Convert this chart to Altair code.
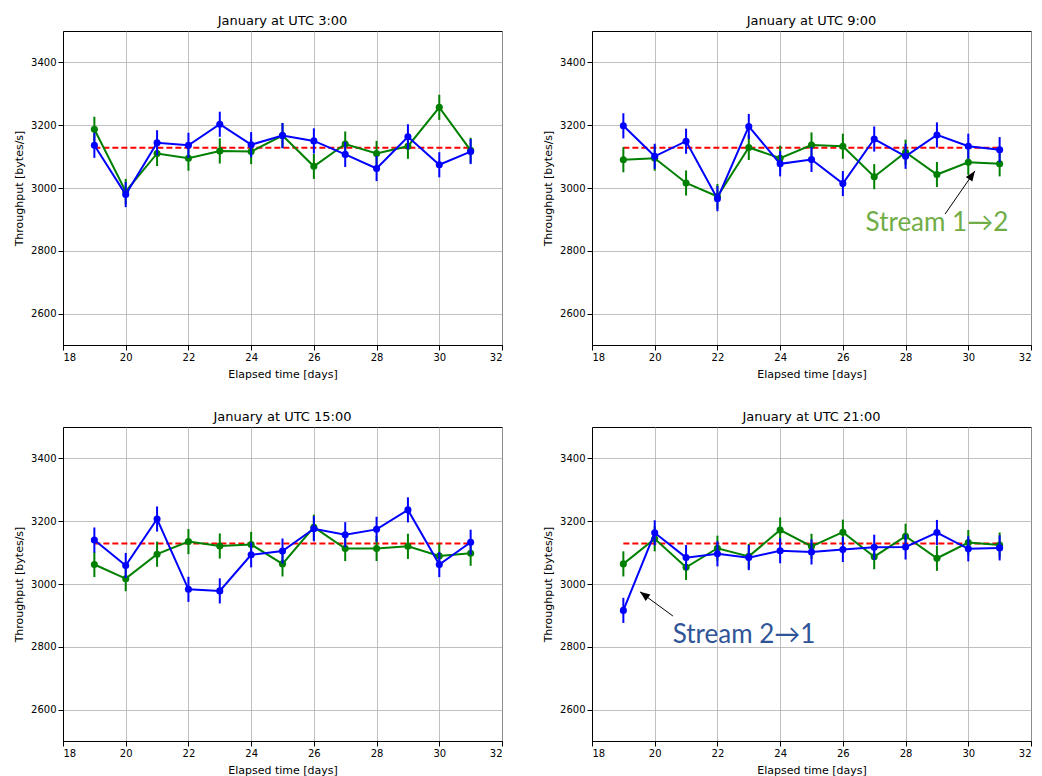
import altair as alt
import pandas as pd

days = [19, 20, 21, 22, 23, 24, 25, 26, 27, 28, 29, 30, 31]
titles = ["January at UTC 3:00", "January at UTC 9:00",
          "January at UTC 15:00", "January at UTC 21:00"]

blue_03 = [3136, 2979, 3144, 3136, 3203, 3138, 3167, 3150, 3107, 3062, 3163, 3074, 3116]
green_03 = [3187, 2989, 3110, 3095, 3118, 3116, 3167, 3069, 3140, 3110, 3133, 3257, 3120]
blue_09 = [3198, 3101, 3149, 2966, 3196, 3077, 3091, 3014, 3156, 3101, 3169, 3133, 3122]
green_09 = [3090, 3095, 3016, 2973, 3129, 3095, 3137, 3133, 3036, 3114, 3043, 3082, 3077]
blue_15 = [3140, 3059, 3207, 2983, 2978, 3093, 3105, 3176, 3157, 3174, 3236, 3062, 3133]
green_15 = [3062, 3017, 3095, 3135, 3121, 3126, 3064, 3181, 3113, 3113, 3120, 3089, 3098]
blue_21 = [2916, 3163, 3084, 3096, 3084, 3106, 3102, 3110, 3117, 3118, 3164, 3112, 3115]
green_21 = [3064, 3144, 3053, 3114, 3088, 3172, 3120, 3165, 3087, 3152, 3082, 3132, 3124]

err_blue = [40, 40, 40, 40, 40, 40, 40, 40, 40, 40, 40, 40, 40]
err_green = [40, 40, 40, 40, 40, 40, 40, 40, 40, 40, 40, 40, 40]

mean_level = [3128, 3128, 3129, 3129]
mean_span = [19, 31]

# annotations
ann_text = ["Stream 1\u21922", "Stream 2\u21921"]
ann_pos = [(29.0, 2889), (22.85, 2838)]
ann_color = ["#70AD47", "#2F5597"]
arrow_from = [(29.26, 2917), (20.58, 2898)]
arrow_to = [(30.21, 3054), (19.53, 2975)]
arrow_angle = [35, 306]

W, H = 439, 314
xs = alt.Scale(domain=[18, 32], nice=False, zero=False)
ys = alt.Scale(domain=[2500, 3500], nice=False, zero=False)
xaxis = alt.Axis(values=[18, 20, 22, 24, 26, 28, 30, 32], title="Elapsed time [days]", format="d")
yaxis = alt.Axis(values=[2600, 2800, 3000, 3200, 3400], title="Throughput [bytes/s]", format="d")


def series(vals, errs, color):
    df = pd.DataFrame({"day": days, "v": vals,
                       "lo": [a - b for a, b in zip(vals, errs)],
                       "hi": [a + b for a, b in zip(vals, errs)]})
    base = alt.Chart(df)
    eb = base.mark_rule(color=color, strokeWidth=2).encode(
        x=alt.X("day:Q", scale=xs, axis=xaxis),
        y=alt.Y("lo:Q", scale=ys, axis=yaxis), y2="hi:Q")
    ln = base.mark_line(color=color, strokeWidth=2).encode(
        x=alt.X("day:Q", scale=xs, axis=xaxis),
        y=alt.Y("v:Q", scale=ys, axis=yaxis))
    pt = base.mark_circle(color=color, size=50, opacity=1).encode(
        x=alt.X("day:Q", scale=xs, axis=xaxis),
        y=alt.Y("v:Q", scale=ys, axis=yaxis))
    return [eb, ln, pt]


def panel(i, blue, green):
    mdf = pd.DataFrame({"x": [mean_span[0]], "x2": [mean_span[1]], "y": [mean_level[i]]})
    mean = alt.Chart(mdf).mark_rule(color="#ff0000", strokeWidth=2, strokeDash=[6, 3]).encode(
        x=alt.X("x:Q", scale=xs, axis=xaxis), x2="x2:Q",
        y=alt.Y("y:Q", scale=ys, axis=yaxis))
    layers = [mean] + series(green, err_green, "#008000") + series(blue, err_blue, "#0000ff")
    k = {1: 0, 3: 1}.get(i)
    if k is not None:
        tdf = pd.DataFrame({"x": [ann_pos[k][0]], "y": [ann_pos[k][1]], "t": [ann_text[k]]})
        txt = alt.Chart(tdf).mark_text(font="Lato", fontSize=26, color=ann_color[k],
                                       align="center", baseline="middle").encode(
            x=alt.X("x:Q", scale=xs, axis=xaxis), y=alt.Y("y:Q", scale=ys, axis=yaxis),
            text="t:N")
        adf = pd.DataFrame({"x": [arrow_from[k][0]], "y": [arrow_from[k][1]],
                            "x2": [arrow_to[k][0]], "y2": [arrow_to[k][1]]})
        shaft = alt.Chart(adf).mark_rule(color="black", strokeWidth=1).encode(
            x=alt.X("x:Q", scale=xs, axis=xaxis), y=alt.Y("y:Q", scale=ys, axis=yaxis),
            x2="x2:Q", y2="y2:Q")
        head = alt.Chart(adf).mark_point(shape="M0,0L-0.4,1L0.4,1Z", filled=True, color="black",
                                         opacity=1, size=400, angle=arrow_angle[k]).encode(
            x=alt.X("x2:Q", scale=xs, axis=xaxis), y=alt.Y("y2:Q", scale=ys, axis=yaxis))
        layers += [shaft, head, txt]
    return alt.layer(*layers).properties(
        width=W, height=H,
        title=alt.TitleParams(titles[i], fontSize=13, font="DejaVu Sans",
                              fontWeight="normal", color="black", offset=3))


p = [panel(0, blue_03, green_03), panel(1, blue_09, green_09),
     panel(2, blue_15, green_15), panel(3, blue_21, green_21)]

chart = alt.vconcat(
    alt.hconcat(p[0], p[1], spacing=39),
    alt.hconcat(p[2], p[3], spacing=39),
    spacing=30,
).properties(
    padding={"left": 13, "top": 14, "right": 5, "bottom": 5},
    background="white",
).configure_view(
    stroke="black", strokeWidth=1
).configure_axis(
    labelFont="DejaVu Sans", labelFontSize=10, labelColor="black",
    titleFont="DejaVu Sans", titleFontSize=11, titleFontWeight="normal", titleColor="black",
    grid=True, gridColor="#b0b0b0", gridWidth=0.8,
    domainColor="black", tickColor="black", tickSize=5, labelPadding=2,
    titlePadding=6,
)

chart.save("out.html", embed_options={"renderer": "svg", "actions": False})
